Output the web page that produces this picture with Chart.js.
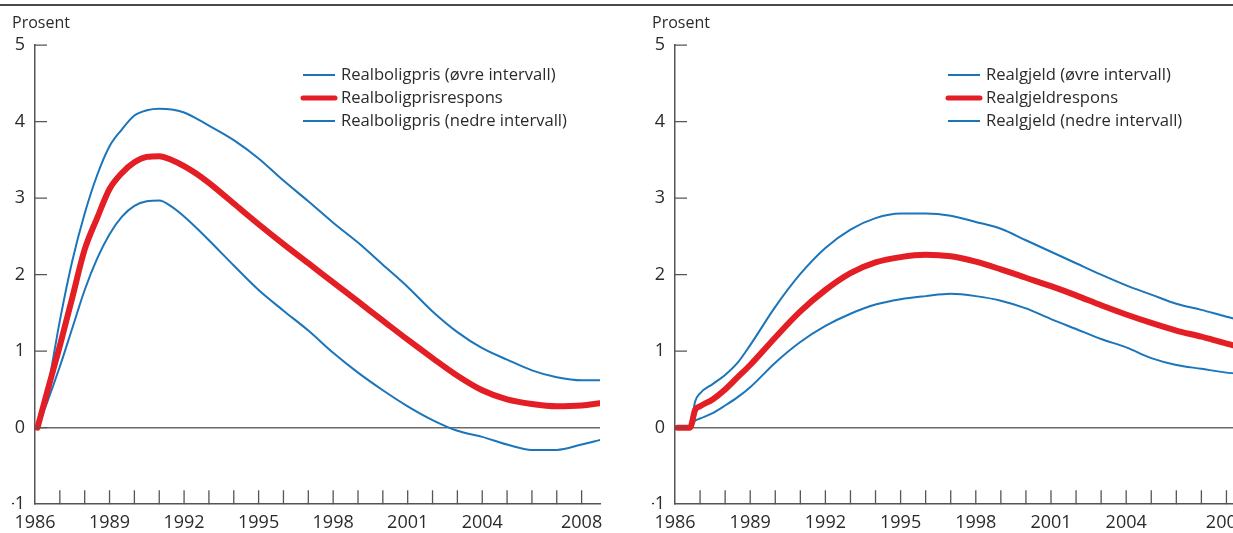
<!DOCTYPE html>
<html>
<head>
<meta charset="utf-8">
<script src="https://cdn.jsdelivr.net/npm/chart.js@4/dist/chart.umd.min.js"></script>
<style>
  html, body { margin: 0; padding: 0; background: #fff; overflow: hidden; width: 1233px; height: 533px; }
  #rule { position: absolute; left: 0; top: 4px; width: 1233px; height: 2px; background: #4a4a4a; }
  canvas { position: absolute; top: 0; }
  #left { left: 0; }
  #right { left: 640px; }
</style>
</head>
<body>
<div id="rule"></div>
<canvas id="left" width="615" height="533"></canvas>
<canvas id="right" width="620" height="533"></canvas>
<script>
// time points (years)
const housePeriods = [1986.1, 1986.5, 1987, 1987.5, 1988, 1988.5, 1989, 1989.5, 1990, 1990.5, 1991, 1991.5,
  1992, 1992.5, 1993, 1994, 1995, 1996, 1997, 1998, 1999, 2000, 2001, 2002, 2003, 2004, 2005, 2006, 2007, 2008, 2008.75]
const houseUpper = [0, 0.50, 1.40, 2.18, 2.80, 3.30, 3.68, 3.90, 4.08, 4.15, 4.17, 4.16,
  4.12, 4.04, 3.95, 3.76, 3.52, 3.23, 2.96, 2.68, 2.42, 2.13, 1.84, 1.52, 1.25, 1.04, 0.89, 0.75, 0.66, 0.62, 0.62]
const houseResp = [0, 0.48, 1.07, 1.70, 2.33, 2.74, 3.12, 3.33, 3.47, 3.54, 3.55, 3.50,
  3.42, 3.32, 3.20, 2.93, 2.66, 2.40, 2.15, 1.90, 1.65, 1.40, 1.15, 0.91, 0.68, 0.49, 0.37, 0.31, 0.28, 0.29, 0.32]
const houseLower = [0, 0.34, 0.80, 1.30, 1.80, 2.21, 2.53, 2.76, 2.90, 2.96, 2.97, 2.89,
  2.76, 2.61, 2.45, 2.12, 1.80, 1.53, 1.27, 0.98, 0.72, 0.49, 0.28, 0.10, -0.04, -0.12, -0.22, -0.29, -0.29, -0.22, -0.16]

const debtPeriods = [1986.1, 1986.6, 1986.8, 1987, 1987.5, 1988, 1988.5, 1989, 1990, 1991, 1992, 1993, 1994, 1995,
  1996, 1997, 1998, 1999, 2000, 2001, 2002, 2003, 2004, 2005, 2006, 2007, 2008, 2008.75]
const debtUpper = [0, 0, 0.34, 0.45, 0.57, 0.69, 0.85, 1.08, 1.58, 2.01, 2.35, 2.59, 2.74, 2.80,
  2.80, 2.77, 2.69, 2.60, 2.45, 2.30, 2.15, 2.00, 1.86, 1.74, 1.62, 1.54, 1.45, 1.39]
const debtResp = [0, 0, 0.23, 0.28, 0.37, 0.50, 0.66, 0.82, 1.18, 1.52, 1.80, 2.02, 2.16, 2.23,
  2.26, 2.24, 2.17, 2.07, 1.96, 1.85, 1.73, 1.60, 1.48, 1.37, 1.27, 1.19, 1.10, 1.04]
const debtLower = [0, 0, 0.09, 0.12, 0.19, 0.29, 0.40, 0.53, 0.85, 1.12, 1.33, 1.49, 1.61, 1.68,
  1.72, 1.75, 1.72, 1.66, 1.56, 1.42, 1.29, 1.16, 1.05, 0.91, 0.82, 0.77, 0.72, 0.70]

const houseLabels = ['Realboligpris (øvre intervall)', 'Realboligprisrespons', 'Realboligpris (nedre intervall)']
const debtLabels = ['Realgjeld (øvre intervall)', 'Realgjeldrespons', 'Realgjeld (nedre intervall)']
const yearLabels = [1986, 1989, 1992, 1995, 1998, 2001, 2004, 2008]

const FONT = '"Open Sans"'
const TEXT = '#2b2b2b'
const AXIS = '#555'
const BLUE = '#1b75bb'
const RED = '#e31e24'

// tick marks pointing into the plot, plus a legend inside the chart area
const innerTicks = {
  id: 'innerTicks',
  afterDraw(chart) {
    const { ctx, chartArea: a, scales: { x, y } } = chart
    ctx.save()
    ctx.strokeStyle = AXIS
    ctx.lineWidth = 1.3
    ctx.beginPath()
    y.ticks.forEach(t => {
      if (t.value <= y.min) return
      const py = y.getPixelForValue(t.value)
      ctx.moveTo(a.left, py)
      ctx.lineTo(a.left + 12, py)
    })
    x.ticks.forEach(t => {
      if (t.value <= x.min) return
      const px = x.getPixelForValue(t.value)
      ctx.moveTo(px, a.bottom)
      ctx.lineTo(px, a.bottom - 14)
    })
    ctx.stroke()

    const opts = chart.options.plugins.innerLegend
    ctx.font = '16.6px ' + FONT
    ctx.textBaseline = 'middle'
    chart.data.datasets.forEach((ds, i) => {
      const ly = opts.y + i * 23
      ctx.strokeStyle = ds.borderColor
      ctx.lineWidth = Math.min(ds.borderWidth, 5)
      ctx.lineCap = ds.borderWidth > 3 ? 'round' : 'butt'
      ctx.beginPath()
      ctx.moveTo(opts.x, ly)
      ctx.lineTo(opts.x + 32, ly)
      ctx.stroke()
      ctx.fillStyle = TEXT
      ctx.fillText(ds.label, opts.x + 38, ly)
    })
    ctx.restore()
  }
}

function makeChart(id, periods, upper, resp, lower, labels, legendX) {
  const pts = arr => arr.map((v, i) => ({ x: periods[i], y: v }))
  return new Chart(document.getElementById(id), {
    type: 'line',
    data: {
      datasets: [
        { label: labels[0], data: pts(upper), borderColor: BLUE, borderWidth: 2, order: 1 },
        { label: labels[1], data: pts(resp), borderColor: RED, borderWidth: 6, order: 0 },
        { label: labels[2], data: pts(lower), borderColor: BLUE, borderWidth: 2, order: 1 },
      ],
    },
    options: {
      responsive: false,
      animation: false,
      events: [],
      layout: { padding: { left: 12, right: 15, top: 0, bottom: 0 } },
      elements: {
        point: { radius: 0 },
        line: { cubicInterpolationMode: 'monotone', borderCapStyle: 'round', borderJoinStyle: 'round' },
      },
      plugins: {
        legend: { display: false },
        tooltip: { enabled: false },
        title: {
          display: true,
          text: 'Prosent',
          align: 'start',
          color: TEXT,
          font: { family: FONT, size: 16, weight: 'normal' },
          padding: { top: 14, bottom: 12 },
        },
        innerLegend: { x: legendX, y: 75 },
      },
      scales: {
        x: {
          type: 'linear',
          min: 1986,
          max: 2008.74,
          afterFit: s => { s.height = 28.8 },
          afterBuildTicks: s => {
            const t = []
            for (let yr = 1986; yr <= 2008; yr++) t.push({ value: yr })
            s.ticks = t
          },
          grid: { display: false },
          border: { display: true, color: AXIS, width: 1.5 },
          ticks: {
            autoSkip: false,
            maxRotation: 0,
            padding: 0,
            color: TEXT,
            font: { family: FONT, size: 18 },
            callback: v => yearLabels.includes(v) ? String(v) : '',
          },
        },
        y: {
          min: -1,
          max: 5,
          afterFit: s => { s.width = 23 },
          grid: {
            drawTicks: false,
            color: c => c.tick && c.tick.value === 0 ? '#6b6b6b' : 'rgba(0,0,0,0)',
            lineWidth: 1.5,
          },
          border: { display: true, color: AXIS, width: 1.5 },
          ticks: {
            stepSize: 1,
            padding: 10,
            color: TEXT,
            font: { family: FONT, size: 18 },
          },
        },
      },
    },
    plugins: [innerTicks],
  })
}

makeChart('left', housePeriods, houseUpper, houseResp, houseLower, houseLabels, 303)
makeChart('right', debtPeriods, debtUpper, debtResp, debtLower, debtLabels, 308)
</script>
</body>
</html>
